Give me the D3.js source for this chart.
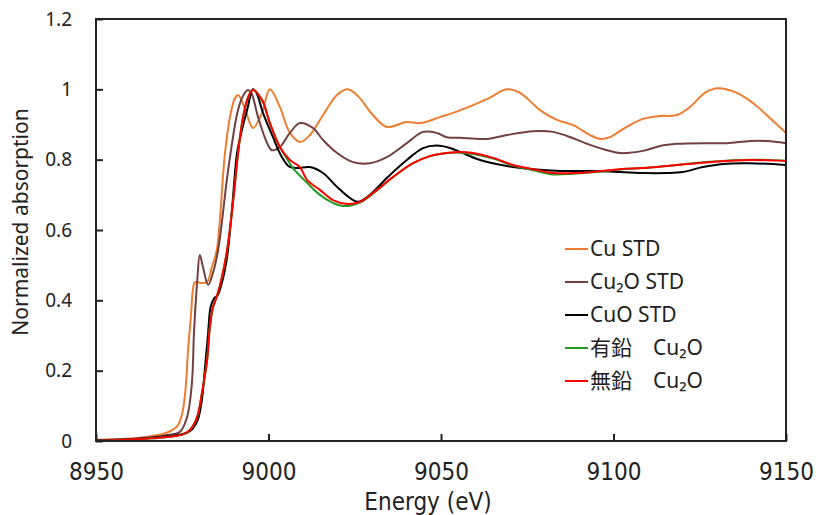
<!DOCTYPE html>
<html>
<head>
<meta charset="utf-8">
<script src="https://cdn.jsdelivr.net/npm/d3@7"></script>
<style>
  body { margin: 0; background: #fff; }
  svg { display: block; }
</style>
</head>
<body>
<div id="chart-container"></div>
<script>
// Values
const seriesNames = ['Cu STD', 'Cu\u2082O STD', 'CuO STD', '有鉛\u3000Cu\u2082O', '無鉛\u3000Cu\u2082O'];
const seriesColors = ['#ed7d31', '#71403f', '#000000', '#229922', '#ff0000'];

const cuEnergy = [8950, 8955, 8960, 8965, 8970, 8972, 8973.8, 8975.2, 8976.1, 8976.7, 8977.5, 8978.1, 8978.7, 8980.7, 8982.2, 8983.6, 8985, 8987.4, 8989, 8990.3, 8991.2, 8993, 8995.5, 8998, 9000.4, 9003.3, 9006, 9009.1, 9012, 9016, 9020, 9023, 9026, 9030, 9034.3, 9040, 9044, 9049.7, 9055.5, 9063.3, 9069.1, 9072.9, 9078.7, 9083.6, 9088.3, 9093.2, 9096.1, 9099, 9101.9, 9104.5, 9108.6, 9113.5, 9118.4, 9122.2, 9126.5, 9130, 9135.8, 9140.4, 9145.4, 9150];
const cuAbs = [0.003, 0.004, 0.007, 0.012, 0.022, 0.03, 0.045, 0.088, 0.165, 0.26, 0.353, 0.43, 0.452, 0.449, 0.452, 0.495, 0.543, 0.82, 0.93, 0.975, 0.984, 0.95, 0.89, 0.93, 1.0, 0.95, 0.88, 0.85, 0.87, 0.93, 0.985, 1.0, 0.98, 0.93, 0.893, 0.907, 0.904, 0.921, 0.94, 0.972, 1.0, 0.99, 0.941, 0.913, 0.898, 0.87, 0.859, 0.864, 0.882, 0.897, 0.916, 0.924, 0.927, 0.95, 0.99, 1.003, 0.99, 0.961, 0.918, 0.876];

const cu2oEnergy = [8950, 8955, 8960, 8965, 8970, 8974.3, 8976.4, 8977.8, 8978.4, 8979.3, 8980.1, 8981, 8982.5, 8983.9, 8985.4, 8988.3, 8990.9, 8992.3, 8994, 8995, 8997, 8999.6, 9001, 9003.3, 9006.2, 9009.1, 9012.9, 9015.8, 9019.9, 9024.5, 9029.4, 9034.3, 9040.1, 9044.8, 9048.8, 9051.7, 9055.5, 9063.3, 9069.1, 9076.7, 9082.5, 9088.3, 9093.2, 9098.1, 9101.9, 9103.9, 9108.6, 9113.5, 9118.4, 9128, 9132.9, 9139.6, 9144.5, 9150];
const cu2oAbs = [0.003, 0.004, 0.006, 0.01, 0.016, 0.026, 0.068, 0.165, 0.307, 0.449, 0.529, 0.495, 0.444, 0.478, 0.543, 0.77, 0.93, 0.975, 0.998, 0.99, 0.92, 0.847, 0.827, 0.836, 0.876, 0.904, 0.89, 0.856, 0.819, 0.793, 0.79, 0.807, 0.847, 0.879, 0.876, 0.864, 0.862, 0.859, 0.87, 0.881, 0.879, 0.861, 0.842, 0.827, 0.819, 0.819, 0.825, 0.839, 0.845, 0.847, 0.847, 0.853, 0.853, 0.847];

const cuoEnergy = [8950, 8955, 8960, 8965, 8970, 8974, 8976, 8978, 8979.5, 8980.7, 8981.6, 8982.5, 8983.2, 8984.2, 8985.3, 8986.5, 8988, 8989.4, 8990.9, 8992.3, 8993.8, 8995.5, 8996.5, 8998.4, 9001.3, 9003.9, 9006, 9008.3, 9012, 9015.8, 9019.9, 9023.6, 9025.9, 9029.4, 9034.3, 9040.1, 9044.8, 9048.8, 9052.6, 9055.5, 9061.3, 9069.1, 9076.7, 9084.5, 9092.3, 9101.9, 9108.6, 9115.5, 9120.1, 9125.9, 9131.7, 9139.6, 9150];
const cuoAbs = [0.002, 0.003, 0.005, 0.008, 0.013, 0.018, 0.022, 0.035, 0.06, 0.117, 0.21, 0.307, 0.38, 0.405, 0.415, 0.45, 0.523, 0.657, 0.82, 0.884, 0.941, 1.0, 0.99, 0.933, 0.864, 0.807, 0.78, 0.776, 0.779, 0.762, 0.722, 0.691, 0.68, 0.7, 0.748, 0.799, 0.833, 0.84, 0.833, 0.822, 0.799, 0.782, 0.773, 0.768, 0.768, 0.765, 0.762, 0.762, 0.765, 0.779, 0.788, 0.79, 0.785];

const leadEnergy = [8950, 8955, 8960, 8965, 8970, 8975, 8977.2, 8979.3, 8980.7, 8982.2, 8983, 8983.9, 8985, 8986.5, 8988, 8989.7, 8991.2, 8992.6, 8994.1, 8995.5, 8998.1, 9000.4, 9003.3, 9005.5, 9007.1, 9011.2, 9014.9, 9018.7, 9021.6, 9026.5, 9031.4, 9036.1, 9041.9, 9046.8, 9051.7, 9055.5, 9059.3, 9065.1, 9070.9, 9076.7, 9082.5, 9088.3, 9094.1, 9101.9, 9108.6, 9118.4, 9128, 9139.6, 9150];
const leadAbs = [0.001, 0.002, 0.004, 0.007, 0.011, 0.018, 0.031, 0.068, 0.136, 0.23, 0.324, 0.38, 0.41, 0.466, 0.543, 0.677, 0.82, 0.92, 0.978, 0.998, 0.97, 0.904, 0.836, 0.8, 0.776, 0.734, 0.7, 0.677, 0.668, 0.678, 0.712, 0.75, 0.79, 0.81, 0.819, 0.82, 0.816, 0.803, 0.783, 0.77, 0.758, 0.76, 0.764, 0.772, 0.776, 0.785, 0.794, 0.8, 0.797];

const leadFreeEnergy = [8950, 8955, 8960, 8965, 8970, 8975, 8977.2, 8979.3, 8980.7, 8982.2, 8983, 8983.9, 8985, 8986.5, 8988, 8989.7, 8991.2, 8992.6, 8994.1, 8995.5, 8998.1, 9000.4, 9003.3, 9006.2, 9009.1, 9011.2, 9014.9, 9018.7, 9022.8, 9026.5, 9031.4, 9036.1, 9041.9, 9046.8, 9051.7, 9055.5, 9059.3, 9065.1, 9070.9, 9076.7, 9082.5, 9088.3, 9094.1, 9101.9, 9108.6, 9118.4, 9128, 9139.6, 9150];
const leadFreeAbs = [0.001, 0.002, 0.004, 0.007, 0.011, 0.018, 0.031, 0.068, 0.136, 0.23, 0.324, 0.38, 0.41, 0.466, 0.543, 0.677, 0.82, 0.92, 0.978, 0.998, 0.97, 0.904, 0.836, 0.799, 0.779, 0.742, 0.714, 0.685, 0.674, 0.68, 0.714, 0.751, 0.79, 0.81, 0.819, 0.822, 0.819, 0.805, 0.785, 0.773, 0.762, 0.762, 0.765, 0.773, 0.776, 0.785, 0.793, 0.799, 0.796];

const xTicks = [8950, 9000, 9050, 9100, 9150];
const yTicks = [0, 0.2, 0.4, 0.6, 0.8, 1, 1.2];

const chartWidth = 816;
const chartHeight = 515;
const margin = { top: 19, right: 30, bottom: 74, left: 96 };

const drawChart = () => {
  const series = [
    [cuEnergy, cuAbs],
    [cu2oEnergy, cu2oAbs],
    [cuoEnergy, cuoAbs],
    [leadEnergy, leadAbs],
    [leadFreeEnergy, leadFreeAbs]
  ].map(([xs, ys], i) => ({
    name: seriesNames[i],
    color: seriesColors[i],
    points: xs.map((x, j) => [x, ys[j]])
  }));

  const svg = d3
    .select('#chart-container')
    .append('svg')
    .attr('width', chartWidth)
    .attr('height', chartHeight);

  const xScale = d3
    .scaleLinear()
    .domain([8950, 9150])
    .range([margin.left, chartWidth - margin.right]);
  const yScale = d3
    .scaleLinear()
    .domain([0, 1.2])
    .range([chartHeight - margin.bottom, margin.top]);

  // Lines
  const line = d3
    .line()
    .x((d) => xScale(d[0]))
    .y((d) => yScale(d[1]))
    .curve(d3.curveCatmullRom.alpha(0.5));

  svg
    .selectAll('path.series')
    .data(series)
    .enter()
    .append('path')
    .attr('class', 'series')
    .attr('fill', 'none')
    .attr('stroke', (d) => d.color)
    .attr('stroke-width', 2)
    .attr('stroke-linejoin', 'round')
    .attr('d', (d) => line(d.points));

  // Frame
  svg
    .append('rect')
    .attr('x', margin.left)
    .attr('y', margin.top)
    .attr('width', xScale(9150) - margin.left)
    .attr('height', yScale(0) - margin.top)
    .attr('fill', 'none')
    .attr('stroke', '#222')
    .attr('stroke-width', 2);

  // Axes (inward ticks)
  const xAxis = d3.axisBottom(xScale).tickValues(xTicks).tickSizeInner(-7).tickSizeOuter(0).tickPadding(22).tickFormat(d3.format('d'));
  const yAxis = d3.axisLeft(yScale).tickValues(yTicks).tickSizeInner(-7).tickSizeOuter(0).tickPadding(24).tickFormat((d) => String(d));

  const gx = svg
    .append('g')
    .attr('id', 'x-axis')
    .attr('transform', `translate(0,${yScale(0)})`)
    .call(xAxis);
  gx.select('.domain').remove();
  gx.selectAll('.tick line').attr('stroke', '#222').attr('stroke-width', 2);
  gx.selectAll('.tick text')
    .attr('font-family', '"Liberation Sans Narrow", "DejaVu Sans Condensed", sans-serif')
    .attr('font-size', 24)
    .attr('fill', '#222');

  const gy = svg
    .append('g')
    .attr('id', 'y-axis')
    .attr('transform', `translate(${margin.left},0)`)
    .call(yAxis);
  gy.select('.domain').remove();
  gy.selectAll('.tick line').attr('stroke', '#222').attr('stroke-width', 2);
  gy.selectAll('.tick text')
    .attr('font-family', '"Noto Sans", "Open Sans", sans-serif')
    .attr('font-size', 19)
    .attr('fill', '#222');

  // Axis titles
  svg
    .append('text')
    .attr('x', 428)
    .attr('y', 510)
    .attr('text-anchor', 'middle')
    .attr('font-family', '"Liberation Sans Narrow", "DejaVu Sans Condensed", sans-serif')
    .attr('font-size', 24)
    .attr('fill', '#222')
    .text('Energy (eV)');

  svg
    .append('text')
    .attr('transform', 'translate(28,222) rotate(-90)')
    .attr('text-anchor', 'middle')
    .attr('font-family', '"Noto Sans", "Open Sans", sans-serif')
    .attr('font-size', 21)
    .attr('fill', '#222')
    .text('Normalized absorption');

  // Legend
  const legend = svg
    .append('g')
    .attr('transform', 'translate(565,249)');
  const items = legend
    .selectAll('g')
    .data(series)
    .enter()
    .append('g')
    .attr('transform', (d, i) => `translate(0,${i * 33})`);
  items
    .append('line')
    .attr('x1', 0)
    .attr('x2', 23)
    .attr('stroke', (d) => d.color)
    .attr('stroke-width', 2);
  items
    .append('text')
    .attr('x', 25)
    .attr('dy', '0.35em')
    .attr('font-family', '"Noto Sans", "Noto Sans CJK JP", sans-serif')
    .attr('font-size', 21)
    .attr('fill', '#222')
    .text((d) => d.name);
};

window.addEventListener('DOMContentLoaded', () => {
  drawChart();
});
</script>
</body>
</html>
